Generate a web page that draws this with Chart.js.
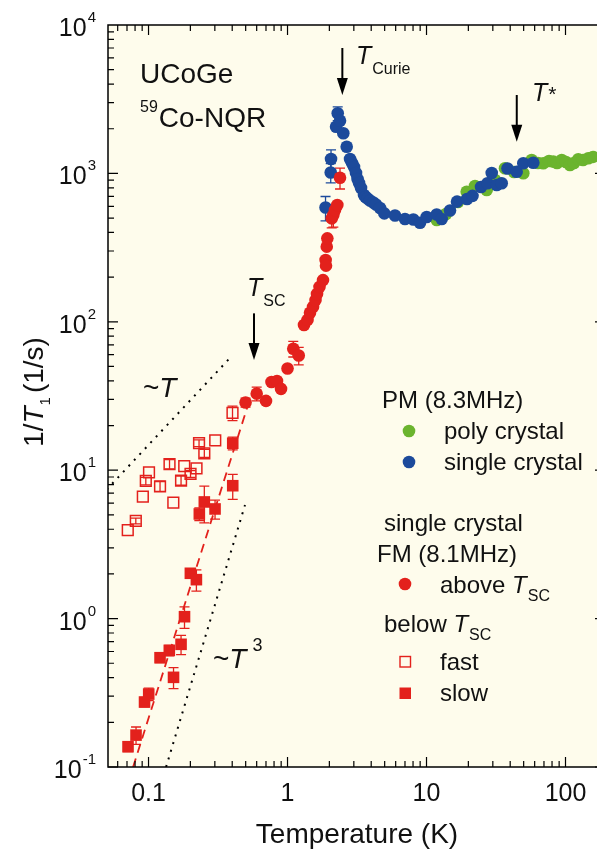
<!DOCTYPE html>
<html>
<head>
<meta charset="utf-8">
<script src="https://cdn.jsdelivr.net/npm/chart.js@4"></script>
<style>
  html, body { margin: 0; padding: 0; background: #fff; }
  canvas { display: block; }
</style>
</head>
<body>
<canvas id="chart" width="597" height="853"></canvas>
<script>
// PM, poly crystal (8.3 MHz)
const polyT = [11.84, 13.81, 16.85, 19.46, 22.33, 27.1, 31.1, 36.7, 42.6, 49.7, 57.1, 63.4, 69.2, 76.1, 81.7, 86.9, 93.9, 100.8, 107.7, 115.1, 123.6, 133.6, 145.9, 157.7];
const polyRate = [485, 533, 642, 753, 823, 773, 903, 1082, 1022, 1002, 1231, 1175, 1170, 1212, 1200, 1175, 1231, 1193, 1139, 1175, 1245, 1231, 1264, 1290];

// PM, single crystal (8.3 MHz)
const singleT = [1.877, 2.046, 2.056, 2.234, 2.297, 2.386, 2.52, 2.666, 2.817, 2.91, 3.009, 3.11, 3.189, 3.27, 3.38, 3.551, 3.64, 3.763, 3.92, 4.143, 4.33, 4.63, 4.97, 5.935, 7.0, 8.04, 8.98, 10.03, 11.84, 12.86, 14.76, 16.57, 19.56, 21.42, 24.67, 27.47, 29.45, 31.99, 34.75, 38.25, 44.55, 49.7, 58.67];
const singleRate = [589, 1014, 1250, 2064, 2541, 2265, 1863, 1513, 1250, 1175, 1104, 1006, 917, 862, 797, 715, 693, 677, 657, 637, 617, 585, 538, 520, 493, 489, 465, 508, 528, 493, 562, 645, 672, 706, 810, 858, 1006, 835, 858, 1079, 1027, 1170, 1181];
const singleErr = [110, 150, 190, 0, 270, 0, 0, 0, 0, 0, 0, 0, 0, 0, 0, 0, 0, 0, 0, 0, 0, 0, 0, 0, 0, 0, 0, 0, 0, 0, 0, 0, 0, 0, 0, 0, 0, 0, 0, 0, 0, 0, 0];

// FM single crystal (8.1 MHz), above Tsc
const fmT = [0.499, 0.6, 0.7, 0.767, 0.84, 0.898, 1.0, 1.1, 1.204, 1.314, 1.393, 1.451, 1.526, 1.59, 1.63, 1.699, 1.8, 1.88, 1.892, 1.915, 1.934, 2.08, 2.136, 2.197, 2.282, 2.386];
const fmRate = [28.6, 32.8, 29.3, 39.3, 39.9, 35.3, 48.4, 65.9, 59.3, 95.1, 103, 115, 126, 140, 154, 172, 191, 261, 239, 321, 365, 498, 524, 567, 612, 935];
const fmErr = [2, 3.5, 0, 0, 0, 0, 0, 8, 8, 0, 0, 0, 0, 0, 0, 0, 0, 0, 0, 0, 0, 68, 90, 0, 0, 150];

// below Tsc, fast component
const fastT = [0.0709, 0.081, 0.091, 0.0956, 0.1008, 0.121, 0.1416, 0.1508, 0.1714, 0.1807, 0.2005, 0.2214, 0.2309, 0.252, 0.302, 0.402];
const fastRate = [3.95, 4.55, 6.63, 8.46, 9.65, 7.79, 11.0, 6.04, 8.52, 10.67, 9.43, 10.3, 15.2, 13.0, 15.9, 24.3];
const fastErr = [0, 0.2, 0, 0.5, 0, 0.6, 0.8, 0, 0.6, 0, 0.5, 0, 0.8, 0.8, 0, 2.7];

// below Tsc, slow component
const slowT = [0.0712, 0.0813, 0.0936, 0.1003, 0.121, 0.1411, 0.1513, 0.1714, 0.1815, 0.2, 0.221, 0.232, 0.252, 0.301, 0.4035, 0.4035];
const slowRate = [0.137, 0.164, 0.274, 0.31, 0.545, 0.611, 0.402, 0.671, 1.03, 2.02, 1.83, 5.07, 6.11, 5.48, 7.86, 15.2];
const slowErr = [0.01, 0.022, 0.02, 0.03, 0.04, 0.05, 0.065, 0.1, 0.17, 0.1, 0.3, 0.5, 1.7, 0.8, 1.5, 1.5];

// guide lines (end points)
const linT = [0.05, 0.385];
const linRate = [7.4, 57];
const cubeT = [0.1337, 0.4945];
const cubeRate = [0.1, 5.83];
const fitT = [0.0774, 0.512];
const fitRate = [0.1, 26.3];

// axis ticks
const xTickVals = [0.1, 1, 10, 100];
const xTickLabels = ['0.1', '1', '10', '100'];
const yTickExps = [-1, 0, 1, 2, 3, 4];

// arrows [T, top rate, tip rate]
const arrowCurie = [2.48, 7000, 3374];
const arrowStar = [44.6, 3374, 1637];
const arrowSc = [0.574, 114, 55.3];

const FONT = '"Liberation Sans", Arial, Helvetica, sans-serif';
const RED = '#e3211c';
const BLUE = '#1c4a9b';
const GREEN = '#6bb42e';
const CREAM = '#fefcec';

const pts = (xs, ys) => xs.map((x, i) => ({ x: x, y: ys[i] }));

function rich(ctx, x, y, parts, align) {
    let w = 0;
    parts.forEach(p => {
        ctx.font = (p[2] ? 'italic ' : '') + p[1] + 'px ' + FONT;
        w += ctx.measureText(p[0]).width + (p[4] || 0);
    });
    let cx = align === 'center' ? x - w / 2 : align === 'right' ? x - w : x;
    parts.forEach(p => {
        ctx.font = (p[2] ? 'italic ' : '') + p[1] + 'px ' + FONT;
        ctx.fillText(p[0], cx, y + (p[3] || 0));
        cx += ctx.measureText(p[0]).width + (p[4] || 0);
    });
}

function arrow(ctx, xs, ys, a) {
    const x = xs.getPixelForValue(a[0]);
    const y0 = ys.getPixelForValue(a[1]);
    const y1 = ys.getPixelForValue(a[2]);
    ctx.strokeStyle = '#000';
    ctx.lineWidth = 2;
    ctx.beginPath();
    ctx.moveTo(x, y0);
    ctx.lineTo(x, y1 - 10);
    ctx.stroke();
    ctx.fillStyle = '#000';
    ctx.beginPath();
    ctx.moveTo(x - 5.5, y1 - 17);
    ctx.lineTo(x + 5.5, y1 - 17);
    ctx.lineTo(x, y1);
    ctx.closePath();
    ctx.fill();
}

const backgroundPlugin = {
    id: 'bg',
    beforeDraw(chart) {
        const { ctx, chartArea: a } = chart;
        ctx.save();
        ctx.fillStyle = CREAM;
        ctx.fillRect(a.left, a.top, a.right - a.left, a.bottom - a.top);
        ctx.restore();
    }
};

const errorBarPlugin = {
    id: 'errbars',
    beforeDatasetsDraw(chart) {
        const { ctx } = chart;
        const ys = chart.scales.y;
        ctx.save();
        chart.data.datasets.forEach((ds, i) => {
            if (!ds.errs) return;
            const meta = chart.getDatasetMeta(i);
            ctx.strokeStyle = ds.borderColor;
            ctx.lineWidth = 1.3;
            meta.data.forEach((el, j) => {
                const e = ds.errs[j];
                if (!e) return;
                const v = ds.data[j].y;
                const top = ys.getPixelForValue(v + e);
                const bot = ys.getPixelForValue(Math.max(v - e, 0.001));
                ctx.beginPath();
                ctx.moveTo(el.x, top); ctx.lineTo(el.x, bot);
                ctx.moveTo(el.x - 5, top); ctx.lineTo(el.x + 5, top);
                ctx.moveTo(el.x - 5, bot); ctx.lineTo(el.x + 5, bot);
                ctx.stroke();
            });
        });
        ctx.restore();
    }
};

const framePlugin = {
    id: 'frame',
    afterDatasetsDraw(chart) {
        const { ctx, chartArea: a } = chart;
        const xs = chart.scales.x, ys = chart.scales.y;
        ctx.save();
        ctx.strokeStyle = '#000';
        ctx.lineWidth = 1.5;
        ctx.beginPath();
        ctx.moveTo(a.right + 2, a.top); ctx.lineTo(a.left, a.top);
        ctx.lineTo(a.left, a.bottom); ctx.lineTo(a.right + 2, a.bottom);
        ctx.stroke();

        // x ticks, top and bottom
        ctx.lineWidth = 1.2;
        ctx.beginPath();
        for (let e = -2; e <= 2; e++) {
            for (let m = 1; m <= 9; m++) {
                const v = m * Math.pow(10, e);
                if (v < xs.min || v > xs.max) continue;
                const x = xs.getPixelForValue(v);
                const len = m === 1 ? 10 : 6;
                ctx.moveTo(x, a.bottom); ctx.lineTo(x, a.bottom - len);
                ctx.moveTo(x, a.top); ctx.lineTo(x, a.top + len);
            }
        }
        // y ticks, left (and right, mostly out of view)
        for (let e = -1; e <= 3; e++) {
            for (let m = 1; m <= 9; m++) {
                const v = m * Math.pow(10, e);
                const y = ys.getPixelForValue(v);
                const len = m === 1 ? 10 : 6;
                ctx.moveTo(a.left, y); ctx.lineTo(a.left + len, y);
                if (m === 1) { ctx.moveTo(a.right, y); ctx.lineTo(a.right - 2, y); }
            }
        }
        ctx.stroke();

        // tick labels
        ctx.fillStyle = '#111';
        ctx.textBaseline = 'alphabetic';
        xTickVals.forEach((v, i) => {
            rich(ctx, xs.getPixelForValue(v), 801, [[xTickLabels[i], 25]], 'center');
        });
        yTickExps.forEach(e => {
            const y = ys.getPixelForValue(Math.pow(10, e));
            rich(ctx, 96, y + 11, [['10', 25, false, 0, 1], [String(e), 15, false, -14]], 'right');
        });

        // axis titles
        rich(ctx, 357, 843, [['Temperature (K)', 28]], 'center');
        ctx.save();
        ctx.translate(43, 392);
        ctx.rotate(-Math.PI / 2);
        rich(ctx, 0, 0, [['1/', 28], ['T', 28, true, 0, 1], ['1', 15, false, 7, 4], ['(1/s)', 28]], 'center');
        ctx.restore();

        // annotations
        rich(ctx, 140, 83, [['UCoGe', 28]]);
        rich(ctx, 140, 127, [['59', 16, false, -15, 1], ['Co-NQR', 28]]);
        rich(ctx, 143, 397, [['~', 28], ['T', 28, true]]);
        rich(ctx, 213, 668, [['~', 28], ['T', 28, true, 0, 6], ['3', 18, false, -17]]);

        arrow(ctx, xs, ys, arrowCurie);
        arrow(ctx, xs, ys, arrowStar);
        arrow(ctx, xs, ys, arrowSc);
        ctx.fillStyle = '#111';
        rich(ctx, 356, 64, [['T', 25, true, 0, 1], ['Curie', 16, false, 10]]);
        rich(ctx, 532, 101, [['T', 25, true, 0, 1], ['*', 21, false, 0]]);
        rich(ctx, 247, 296, [['T', 25, true, 0, 1], ['SC', 16, false, 10]]);

        // legend
        rich(ctx, 382, 408, [['PM (8.3MHz)', 24]]);
        rich(ctx, 444, 439, [['poly crystal', 24]]);
        rich(ctx, 444, 470, [['single crystal', 24]]);
        rich(ctx, 384, 531, [['single crystal', 24]]);
        rich(ctx, 377, 562, [['FM (8.1MHz)', 24]]);
        rich(ctx, 440, 593, [['above ', 24], ['T', 24, true, 0, 1], ['SC', 16, false, 8]]);
        rich(ctx, 384, 632, [['below ', 24], ['T', 24, true, 0, 1], ['SC', 16, false, 8]]);
        rich(ctx, 440, 670, [['fast', 24]]);
        rich(ctx, 440, 701, [['slow', 24]]);

        const dot = (x, y, c) => { ctx.fillStyle = c; ctx.beginPath(); ctx.arc(x, y, 6.3, 0, Math.PI * 2); ctx.fill(); };
        dot(409, 431, GREEN);
        dot(409, 462, BLUE);
        dot(405, 584, RED);
        ctx.strokeStyle = RED; ctx.lineWidth = 1.4;
        ctx.strokeRect(400, 656.5, 10.5, 10.5);
        ctx.fillStyle = RED;
        ctx.fillRect(399.5, 687.5, 11.5, 11.5);
        ctx.restore();
    }
};

new Chart(document.getElementById('chart'), {
    type: 'scatter',
    data: {
        datasets: [
            { data: pts(fmT, fmRate), errs: fmErr, pointStyle: 'circle', pointRadius: 6.3, backgroundColor: RED, borderColor: RED, borderWidth: 0, order: 0 },
            { data: pts(singleT, singleRate), errs: singleErr, pointStyle: 'circle', pointRadius: 6.3, backgroundColor: BLUE, borderColor: BLUE, borderWidth: 0, order: 1 },
            { data: pts(polyT, polyRate), pointStyle: 'circle', pointRadius: 6.3, backgroundColor: GREEN, borderColor: GREEN, borderWidth: 0, order: 2 },
            { data: pts(slowT, slowRate), errs: slowErr, pointStyle: 'rect', pointRadius: 8.2, backgroundColor: RED, borderColor: RED, borderWidth: 0, order: 3 },
            { data: pts(fastT, fastRate), errs: fastErr, pointStyle: 'rect', pointRadius: 7.6, backgroundColor: 'rgba(0,0,0,0)', borderColor: RED, borderWidth: 1.5, order: 4 },
            { data: pts(fitT, fitRate), showLine: true, pointRadius: 0, borderColor: RED, borderWidth: 1.8, borderDash: [9, 6], order: 5 },
            { data: pts(linT, linRate), showLine: true, pointRadius: 0, borderColor: '#000', borderWidth: 2, borderDash: [2, 6], order: 6 },
            { data: pts(cubeT, cubeRate), showLine: true, pointRadius: 0, borderColor: '#000', borderWidth: 2, borderDash: [2, 6], order: 7 }
        ]
    },
    options: {
        responsive: false,
        animation: false,
        devicePixelRatio: 1,
        layout: { autoPadding: false, padding: { left: 108, top: 25, right: 0, bottom: 86 } },
        plugins: { legend: { display: false }, tooltip: { enabled: false } },
        scales: {
            x: { type: 'logarithmic', min: 0.0511, max: 168.5, display: false },
            y: { type: 'logarithmic', min: 0.1, max: 10000, display: false }
        }
    },
    plugins: [backgroundPlugin, errorBarPlugin, framePlugin]
});
</script>
</body>
</html>
